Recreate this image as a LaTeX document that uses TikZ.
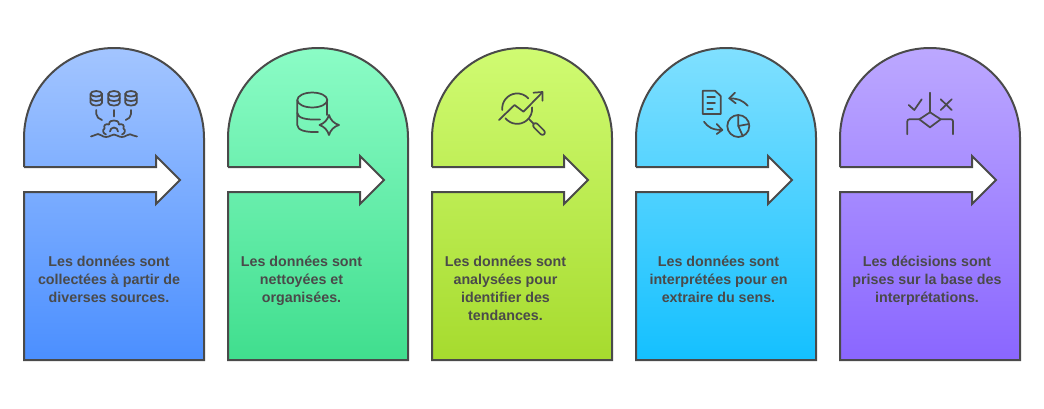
\documentclass[tikz,border=0pt]{standalone}
\usepackage{fontspec}
\setmainfont{Liberation Sans}
\definecolor{ink}{HTML}{4A4A4A}
\definecolor{aT}{HTML}{A3C5FF}\definecolor{aB}{HTML}{4B8FFF}
\definecolor{bT}{HTML}{8BFCC6}\definecolor{bB}{HTML}{40DE8E}
\definecolor{cT}{HTML}{D0FB72}\definecolor{cB}{HTML}{A6DB2E}
\definecolor{dT}{HTML}{80E0FF}\definecolor{dB}{HTML}{14C0FF}
\definecolor{eT}{HTML}{BCA8FF}\definecolor{eB}{HTML}{8A66FF}
\tikzset{
  x=0.75pt,y=-0.75pt,
  outlinepath/.style={draw=ink,line width=1.5pt,line join=miter},
  iconline/.style={draw=ink,line width=1.3pt,line cap=round,line join=round},
  caption/.style={text=ink,font=\fontsize{10.7pt}{13.5pt}\selectfont\bfseries,align=center,anchor=north,inner sep=0pt}
}
\newcommand{\archpath}[1]{(#1,167) -- (#1,138) arc[start angle=180,end angle=0,radius=67.5pt] -- ({#1+180},360) -- (#1,360) -- (#1,192) -- ({#1+132},192) -- ({#1+132},204) -- ({#1+156},180) -- ({#1+132},156) -- ({#1+132},167) -- cycle}
\newcommand{\archoutline}[1]{(#1,167) -- (#1,138) arc[start angle=180,end angle=0,radius=67.5pt] -- ({#1+180},360) -- (#1,360) -- (#1,192) -- ({#1+132},192) -- ({#1+132},204) -- ({#1+156},180) -- ({#1+132},156) -- ({#1+132},167) -- (#1,167)}
\newcommand{\minicyl}[1]{%
  \draw[iconline] ({#1-5.7},93.8) arc[start angle=180,end angle=0,x radius=4.27pt,y radius=2.1pt] -- ({#1+5.7},102.8) arc[start angle=0,end angle=-180,x radius=4.27pt,y radius=2.1pt] -- cycle;
  \draw[iconline] ({#1-5.7},93.8) arc[start angle=180,end angle=360,x radius=4.27pt,y radius=2.1pt];
  \draw[iconline] ({#1-5.7},98.3) arc[start angle=180,end angle=360,x radius=4.27pt,y radius=2.1pt];
}
\begin{document}
\begin{tikzpicture}
\useasboundingbox (0,0) rectangle (1044,408);
\foreach \xx/\cc in {24/a,228/b,432/c,636/d,840/e}{
  \shade[top color=\cc T,bottom color=\cc B] \archpath{\xx};
  \draw[outlinepath] \archoutline{\xx};
}
% icon 1
\minicyl{96.3}\minicyl{114}\minicyl{131}
\draw[iconline] (96.3,110) -- (96.3,114) .. controls (96.3,117) and (99,119) .. (102,120);
\draw[iconline] (114,110) -- (114,116.5);
\draw[iconline] (131,110) -- (131,114) .. controls (131,117) and (128.5,119) .. (125.7,120);
\draw[iconline] (91,136.5) .. controls (94,136.5) and (95,134) .. (98,134) .. controls (101,134) and (102,137) .. (106,137) .. controls (110,137) and (111,134.5) .. (114,134.5) .. controls (117,134.5) and (118,137) .. (122,137) .. controls (126,137) and (127,134) .. (130,134.3) .. controls (133,134.6) and (134,136.5) .. (137,136.5);
\draw[iconline] (106,134.5) .. controls (103,133.5) and (102,130) .. (104.5,128.5) .. controls (103.5,125) and (105.5,123.5) .. (109,124.5) .. controls (109.5,121) and (111,120.5) .. (114,120.5) .. controls (117,120.5) and (118.5,121) .. (119,124.5) .. controls (122.5,123.5) and (124.5,125) .. (123.5,128.5) .. controls (126,130) and (125,133.5) .. (122,134.5);
\draw[iconline] (110,131.5) arc[start angle=180,end angle=0,radius=3pt];
% icon 2
\draw[iconline] (297.3,100) arc[start angle=180,end angle=-180,x radius=11.25pt,y radius=5.6pt];
\draw[iconline] (297.3,100) -- (297.3,125) .. controls (297.3,130) and (305,132.5) .. (318,132);
\draw[iconline] (297.3,113) .. controls (298,118) and (305,120) .. (320,119.5);
\draw[iconline] (327.3,100) -- (327.3,115);
\draw[iconline] (329,115) .. controls (330.5,120) and (334,123.5) .. (339,125) .. controls (334,126.5) and (330.5,130) .. (329,135) .. controls (327.5,130) and (324,126.5) .. (319.5,125) .. controls (324,123.5) and (327.5,120) .. (329,115) -- cycle;
% icon 3
\draw[iconline] (502.3,110) arc[start angle=186,end angle=42,radius=11.25pt];
\draw[iconline] (505.5,118.3) arc[start angle=219,end angle=366,radius=11.25pt];
\draw[iconline] (499,120) -- (514.5,105) -- (523.5,111.7) -- (542,92.7);
\draw[iconline] (533.5,92.7) -- (542.5,92) -- (542.5,100.7);
\draw[iconline] (529.3,119.3) -- (533.5,123.7);
\draw[iconline,rounded corners=2pt] (532,125.5) -- (535.5,122) -- (546,132.5) -- (542.5,136) -- cycle;
% icon 4
\draw[iconline] (702.7,91) -- (702.7,114) -- (720.7,114) -- (720.7,96) -- (715,90.7) -- (702.7,90.7) -- cycle;
\draw[iconline] (707.3,96.7) -- (715,96.7);
\draw[iconline] (707.3,102.7) -- (715,102.7);
\draw[iconline] (707.3,108.7) -- (712.7,108.7);
\draw[iconline] (747.7,105.7) .. controls (742,100) and (738,98.5) .. (729.3,98.3);
\draw[iconline] (735,92.7) -- (729.3,98.3) -- (735.7,103.3);
\draw[iconline] (704,121.7) .. controls (708,127) and (712,130) .. (722.3,130);
\draw[iconline] (716.7,124) -- (722.3,130) -- (716.7,134);
\draw[iconline] (738.3,126) circle[radius=8.25pt];
\draw[iconline] (738.3,115) -- (738.3,126) -- (749,124);
\draw[iconline] (738.3,126) -- (742.7,136);
% icon 5
\draw[iconline] (930,92.7) -- (930,112.3);
\draw[iconline] (908.7,105) -- (914.3,110) -- (921.7,99.3);
\draw[iconline] (940.7,99.3) -- (951.7,110);
\draw[iconline] (951.7,99.3) -- (940.7,110);
\draw[iconline] (930,112.3) -- (940.7,119.3) -- (930,127.3) -- (919.3,119.3) -- cycle;
\draw[iconline,rounded corners=1.5pt] (919.3,119.3) -- (907.3,119.3) -- (907.3,134.3);
\draw[iconline,rounded corners=1.5pt] (940.7,119.3) -- (953,119.3) -- (953,134.3);
% captions
\node[caption] (t1) at (109,255.5) {Les données sont\\collectées à partir de\\diverses sources.};
\node[caption] (t2) at (301.5,255.5) {Les données sont\\nettoyées et\\organisées.};
\node[caption] (t3) at (505.5,255.5) {Les données sont\\analysées pour\\identifier des\\tendances.};
\node[caption] (t4) at (718.5,255.5) {Les données sont\\interprétées pour en\\extraire du sens.};
\node[caption] (t5) at (927,255.5) {Les décisions sont\\prises sur la base des\\interprétations.};
\end{tikzpicture}
\end{document}
